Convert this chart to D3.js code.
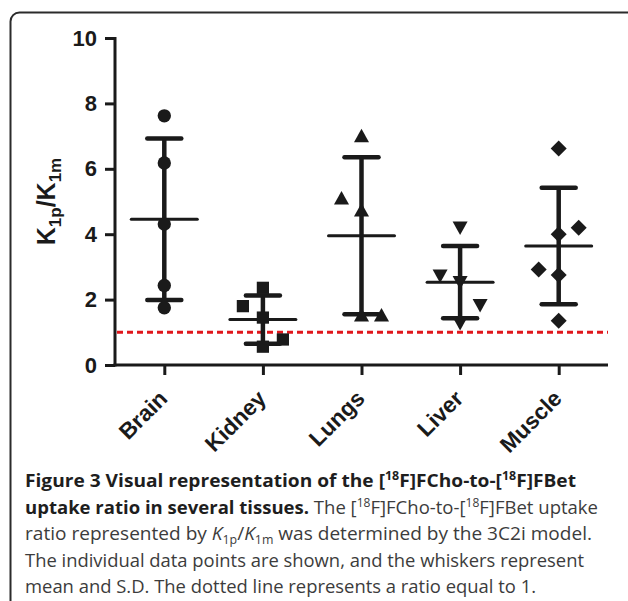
<!DOCTYPE html>
<html>
<head>
<meta charset="utf-8">
<script src="https://cdn.jsdelivr.net/npm/d3@7"></script>
<style>
  html, body { margin: 0; padding: 0; background: #fff; }
  svg { display: block; }
</style>
</head>
<body>
<svg id="fig" width="628" height="601"></svg>
<script>
// tissues on the x axis
var categories = ["Brain", "Kidney", "Lungs", "Liver", "Muscle"];

// K1p/K1m values per tissue
var brain  = [7.62, 6.18, 4.31, 2.43, 1.75];
var kidney = [2.36, 1.80, 1.45, 0.78, 0.56];
var lungs  = [6.98, 5.08, 4.71, 1.50, 1.50];
var liver  = [4.22, 2.75, 2.55, 1.85, 1.30];
var muscle = [6.62, 4.20, 4.00, 2.92, 2.75, 1.35];

// which column a point was pushed to by the scatter layout (-1 left, 0 centre, 1 right)
var brainSide  = [0, 0, 0, 0, 0];
var kidneySide = [0, -1, 0, 1, 0];
var lungsSide  = [0, -1, 0, 0, 1];
var liverSide  = [0, -1, 0, 1, 0];
var muscleSide = [0, 1, 0, -1, 0, 0];

var yTicks = [0, 2, 4, 6, 8, 10];
var refLine = 1;

var series = [brain, kidney, lungs, liver, muscle];
var sides = [brainSide, kidneySide, lungsSide, liverSide, muscleSide];
var shapes = ["circle", "square", "triUp", "triDown", "diamond"];

var svg = d3.select("#fig");

// outer frame of the figure box
svg.append("rect")
  .attr("x", 10.5).attr("y", 12.5)
  .attr("width", 640).attr("height", 640)
  .attr("rx", 9)
  .attr("fill", "none")
  .attr("stroke", "#2b2b2b")
  .attr("stroke-width", 2);

// plot area (don't call these top/left, window.top is read only)
var pLeft = 115, pRight = 608, pTop = 38, pBottom = 365;

var y = d3.scaleLinear().domain([0, 10]).range([pBottom, pTop]);
var x = d3.scalePoint().domain(categories).range([pLeft, pRight]).padding(0.5);
var side = d3.scaleLinear().domain([-1, 1]).range([-20, 20]);

var chartFont = "'Liberation Sans', Arial, sans-serif";
var ink = "#1a1a1a";

// y axis
var yAxis = svg.append("g")
  .attr("transform", "translate(" + pLeft + ",0)")
  .call(d3.axisLeft(y).tickValues(yTicks).tickSize(10).tickPadding(8).tickSizeOuter(0));
yAxis.select(".domain").attr("stroke", ink).attr("stroke-width", 3)
  .attr("d", "M0," + (pBottom + 1.5) + "V" + (pTop - 1));
yAxis.selectAll(".tick line").attr("stroke", ink).attr("stroke-width", 3);
yAxis.selectAll(".tick text")
  .attr("fill", ink)
  .style("font-family", chartFont)
  .style("font-weight", "bold")
  .style("font-size", "22px");

// x axis
var xAxis = svg.append("g")
  .attr("transform", "translate(0," + pBottom + ")")
  .call(d3.axisBottom(x).tickSize(10).tickSizeOuter(0));
xAxis.select(".domain").attr("stroke", ink).attr("stroke-width", 3)
  .attr("d", "M" + (pLeft - 1.5) + ",0H" + pRight);
xAxis.selectAll(".tick line").attr("stroke", ink).attr("stroke-width", 3);
xAxis.selectAll(".tick text")
  .attr("fill", ink)
  .attr("text-anchor", "end")
  .attr("dy", null)
  .attr("y", 0)
  .attr("transform", "translate(4,35) rotate(-45)")
  .style("font-family", chartFont)
  .style("font-weight", "bold")
  .style("font-size", "22.5px");

// y axis title K1p/K1m
var yTitle = svg.append("text")
  .attr("transform", "translate(55," + ((pTop + pBottom) / 2) + ") rotate(-90)")
  .attr("text-anchor", "middle")
  .attr("fill", ink)
  .style("font-family", chartFont)
  .style("font-weight", "bold")
  .style("font-size", "25px");
yTitle.append("tspan").text("K");
yTitle.append("tspan").text("1p").attr("dy", 6).style("font-size", "17px");
yTitle.append("tspan").text("/K").attr("dy", -6);
yTitle.append("tspan").text("1m").attr("dy", 6).style("font-size", "17px");

// dotted reference line at ratio = 1
svg.append("line")
  .attr("x1", pLeft + 2).attr("x2", pRight)
  .attr("y1", y(refLine)).attr("y2", y(refLine))
  .attr("stroke", "#e0161b")
  .attr("stroke-width", 3)
  .attr("stroke-dasharray", "6,4");

// mean and S.D. whiskers
categories.forEach(function(c, i) {
  var vals = series[i];
  var m = d3.mean(vals), sd = d3.deviation(vals);
  var cx = x(c);
  var g = svg.append("g").attr("class", "whisker");
  g.append("line").attr("x1", cx).attr("x2", cx)
    .attr("y1", y(m + sd)).attr("y2", y(m - sd))
    .attr("stroke", ink).attr("stroke-width", 4.5);
  [m + sd, m - sd].forEach(function(v) {
    g.append("line").attr("x1", cx - 17).attr("x2", cx + 17)
      .attr("y1", y(v)).attr("y2", y(v))
      .attr("stroke", ink).attr("stroke-width", 4.5).attr("stroke-linecap", "round");
  });
  g.append("line").attr("x1", cx - 33).attr("x2", cx + 33)
    .attr("y1", y(m)).attr("y2", y(m))
    .attr("stroke", ink).attr("stroke-width", 3).attr("stroke-linecap", "round");
});

// individual points
function markerPath(kind) {
  if (kind == "circle") return d3.symbol(d3.symbolCircle, 140)();
  if (kind == "square") return d3.symbol(d3.symbolSquare, 150)();
  if (kind == "diamond") return "M0,-8L8,0L0,8L-8,0Z";
  if (kind == "triUp") return "M0,-8L7.5,5.5L-7.5,5.5Z";
  return "M0,8L7.5,-5.5L-7.5,-5.5Z";
}

categories.forEach(function(c, i) {
  svg.append("g").selectAll("path")
    .data(series[i].map(function(v, j) { return { v: v, s: sides[i][j] }; }))
    .enter().append("path")
      .attr("d", markerPath(shapes[i]))
      .attr("transform", function(d) { return "translate(" + (x(c) + side(d.s)) + "," + y(d.v) + ")"; })
      .attr("fill", ink);
});

// caption
var capFont = "'Open Sans', 'Noto Sans', sans-serif";
var cap = svg.append("g").attr("class", "caption")
  .style("font-family", capFont);
var capLines = [
  [["b", "Figure 3 Visual representation of the ["], ["bs", "18"], ["b", "F]FCho-to-["], ["bs", "18"], ["b", "F]FBet"]],
  [["b", "uptake ratio in several tissues."], ["r", " The ["], ["rs", "18"], ["r", "F]FCho-to-["], ["rs", "18"], ["r", "F]FBet uptake"]],
  [["r", "ratio represented by "], ["i", "K"], ["rb", "1p"], ["r", "/"], ["i", "K"], ["rb", "1m"], ["r", " was determined by the 3C2i model."]],
  [["r", "The individual data points are shown, and the whiskers represent"]],
  [["r", "mean and S.D. The dotted line represents a ratio equal to 1."]]
];
// widths each line takes in the original box
var capWidths = [551, 573, 567, 559, 511];
var capSize = 20;
capLines.forEach(function(line, k) {
  var t = cap.append("text")
    .attr("class", "capline")
    .attr("x", 25)
    .attr("y", 487 + k * 26.6)
    .style("font-size", capSize + "px");
  line.forEach(function(p) {
    var kind = p[0];
    var ts = t.append("tspan").text(p[1]);
    var bold = kind.charAt(0) == "b";
    ts.attr("fill", bold ? "#1e1e1e" : "#3c3c3c")
      .style("font-weight", bold ? "bold" : "normal");
    if (kind == "i") ts.style("font-style", "italic");
    if (kind == "bs" || kind == "rs") ts.style("font-size", "13px").attr("baseline-shift", "7");
    if (kind == "rb") ts.style("font-size", "13px").attr("baseline-shift", "-4");
  });
});

// fit: size from the plain 4th line, then squeeze every line to its width
var ref = cap.selectAll(".capline").nodes()[3];
var s = capWidths[3] / ref.getComputedTextLength();
cap.selectAll(".capline").style("font-size", (capSize * s) + "px");
cap.selectAll("tspan").filter(function() { return this.style.fontSize == "13px"; })
  .style("font-size", (13 * s) + "px");
cap.selectAll(".capline").each(function(d, k) {
  d3.select(this).attr("textLength", capWidths[k]).attr("lengthAdjust", "spacingAndGlyphs");
});
</script>
</body>
</html>
